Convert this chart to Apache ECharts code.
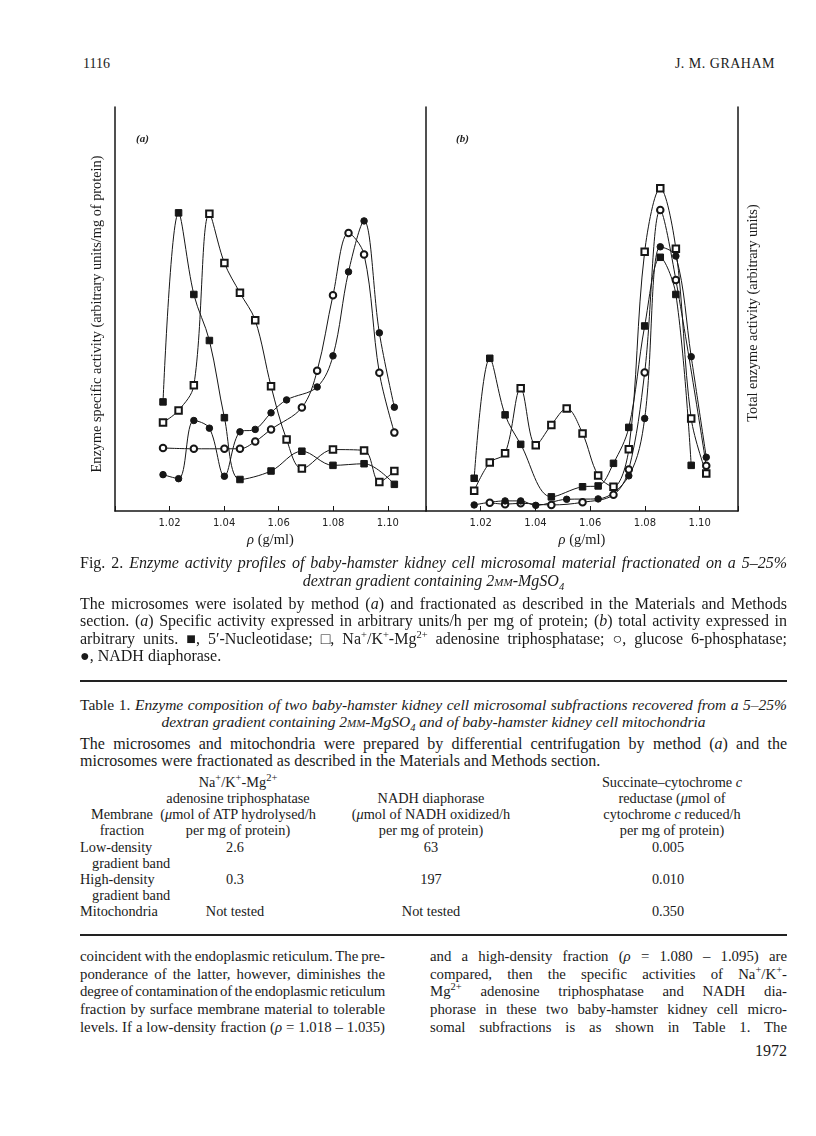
<!DOCTYPE html>
<html>
<head>
<meta charset="utf-8">
<script src="https://cdn.jsdelivr.net/npm/echarts@6/dist/echarts.min.js"></script>
<style>
html,body{margin:0;padding:0;background:#fff;}
#page{position:relative;width:816px;height:1136px;overflow:hidden;background:#fff;color:#1a1a1a;}
#chart{position:absolute;left:0;top:0;width:816px;height:560px;}
.t{position:absolute;font-family:'Liberation Serif','Times New Roman',serif;font-size:16px;line-height:18px;white-space:nowrap;}
.tb{font-size:14.3px;}
.col{font-size:14.8px;}
.c{text-align:center;}
.r{text-align:right;}
.sc{font-variant:small-caps;}
sup,sub{font-size:10.5px;line-height:0;}
.rule{position:absolute;left:80px;width:707px;height:2px;background:#222;}
</style>
</head>
<body>
<div id="page">
<div class="t" style="top:55px;left:83px;font-size:14px;">1116</div>
<div class="t r" style="top:55px;left:600px;width:175px;font-size:14px;letter-spacing:0.5px;">J. M. GRAHAM</div>

<div id="chart"></div>

<div class="t j" data-w="707" style="top:554px;left:80px;">Fig. 2. <i>Enzyme activity profiles of baby-hamster kidney cell microsomal material fractionated on a 5–25%</i></div>
<div class="t c" style="top:572px;left:80px;width:707px;"><i>dextran gradient containing 2<span class="sc">mm</span>-MgSO<sub>4</sub></i></div>

<div class="t j" data-w="707" style="top:595px;left:80px;">The microsomes were isolated by method (<i>a</i>) and fractionated as described in the Materials and Methods</div>
<div class="t j" data-w="707" style="top:612px;left:80px;">section. (<i>a</i>) Specific activity expressed in arbitrary units/h per mg of protein; (<i>b</i>) total activity expressed in</div>
<div class="t j" data-w="707" style="top:630px;left:80px;">arbitrary units. ■, 5′-Nucleotidase; □, Na<sup>+</sup>/K<sup>+</sup>-Mg<sup>2+</sup> adenosine triphosphatase; ○, glucose 6-phosphatase;</div>
<div class="t" style="top:647px;left:80px;">●, NADH diaphorase.</div>

<div class="rule" style="top:680px;"></div>

<div class="t j" data-w="707" style="top:696px;left:80px;font-size:15.5px;">Table 1. <i>Enzyme composition of two baby-hamster kidney cell microsomal subfractions recovered from a 5–25%</i></div>
<div class="t c" style="top:713px;left:80px;width:707px;font-size:15.5px;"><i>dextran gradient containing 2<span class="sc">mm</span>-MgSO<sub>4</sub> and of baby-hamster kidney cell mitochondria</i></div>
<div class="t j" data-w="707" style="top:735px;left:80px;">The microsomes and mitochondria were prepared by differential centrifugation by method (<i>a</i>) and the</div>
<div class="t" style="top:752px;left:80px;">microsomes were fractionated as described in the Materials and Methods section.</div>

<div class="t tb c" style="top:773px;left:138px;width:200px;">Na<sup>+</sup>/K<sup>+</sup>-Mg<sup>2+</sup></div>
<div class="t tb c" style="top:789px;left:138px;width:200px;">adenosine triphosphatase</div>
<div class="t tb c" style="top:805px;left:138px;width:200px;">(<i>μ</i>mol of ATP hydrolysed/h</div>
<div class="t tb c" style="top:821px;left:138px;width:200px;">per mg of protein)</div>

<div class="t tb c" style="top:789px;left:331px;width:200px;">NADH diaphorase</div>
<div class="t tb c" style="top:805px;left:331px;width:200px;">(<i>μ</i>mol of NADH oxidized/h</div>
<div class="t tb c" style="top:821px;left:331px;width:200px;">per mg of protein)</div>

<div class="t tb c" style="top:773px;left:572px;width:200px;">Succinate–cytochrome <i>c</i></div>
<div class="t tb c" style="top:789px;left:572px;width:200px;">reductase (<i>μ</i>mol of</div>
<div class="t tb c" style="top:805px;left:572px;width:200px;">cytochrome <i>c</i> reduced/h</div>
<div class="t tb c" style="top:821px;left:572px;width:200px;">per mg of protein)</div>

<div class="t tb c" style="top:805px;left:72px;width:100px;">Membrane</div>
<div class="t tb c" style="top:821px;left:72px;width:100px;">fraction</div>

<div class="t tb" style="top:838px;left:80px;">Low-density</div>
<div class="t tb" style="top:854px;left:92px;">gradient band</div>
<div class="t tb c" style="top:838px;left:135px;width:200px;">2.6</div>
<div class="t tb c" style="top:838px;left:331px;width:200px;">63</div>
<div class="t tb c" style="top:838px;left:568px;width:200px;">0.005</div>

<div class="t tb" style="top:870px;left:80px;">High-density</div>
<div class="t tb" style="top:886px;left:92px;">gradient band</div>
<div class="t tb c" style="top:870px;left:135px;width:200px;">0.3</div>
<div class="t tb c" style="top:870px;left:331px;width:200px;">197</div>
<div class="t tb c" style="top:870px;left:568px;width:200px;">0.010</div>

<div class="t tb" style="top:902px;left:80px;">Mitochondria</div>
<div class="t tb c" style="top:902px;left:135px;width:200px;">Not tested</div>
<div class="t tb c" style="top:902px;left:331px;width:200px;">Not tested</div>
<div class="t tb c" style="top:902px;left:568px;width:200px;">0.350</div>

<div class="rule" style="top:934px;"></div>

<div class="t col j" data-w="305" style="top:947px;left:80px;">coincident with the endoplasmic reticulum. The pre-</div>
<div class="t col j" data-w="305" style="top:965px;left:80px;">ponderance of the latter, however, diminishes the</div>
<div class="t col j" data-w="305" style="top:982px;left:80px;">degree of contamination of the endoplasmic reticulum</div>
<div class="t col j" data-w="305" style="top:1000px;left:80px;">fraction by surface membrane material to tolerable</div>
<div class="t col j" data-w="305" style="top:1018px;left:80px;">levels. If a low-density fraction (<i>ρ</i> = 1.018 – 1.035)</div>

<div class="t col j" data-w="357" style="top:947px;left:430px;">and a high-density fraction (<i>ρ</i> = 1.080 – 1.095) are</div>
<div class="t col j" data-w="357" style="top:965px;left:430px;">compared, then the specific activities of Na<sup>+</sup>/K<sup>+</sup>-</div>
<div class="t col j" data-w="357" style="top:982px;left:430px;">Mg<sup>2+</sup> adenosine triphosphatase and NADH dia-</div>
<div class="t col j" data-w="357" style="top:1000px;left:430px;">phorase in these two baby-hamster kidney cell micro-</div>
<div class="t col j" data-w="357" style="top:1018px;left:430px;">somal subfractions is as shown in Table 1. The</div>

<div class="t r" style="top:1042px;left:687px;width:100px;">1972</div>
</div>

<script>
// Gradient fraction densities (g/ml), shared by both panels
const density = [1.0176, 1.0233, 1.0289, 1.0346, 1.0401, 1.0458, 1.0514, 1.0572,
                 1.0629, 1.0685, 1.0741, 1.0799, 1.0856, 1.0913, 1.0969, 1.1024];
const tickLabels = ['1.02', '1.04', '1.06', '1.08', '1.10'];

// (a) specific activity (arbitrary units / mg protein); null = no point
const nucleotidaseA = [27.0, 73.8, 53.6, 42.2, 23.1, 7.8, null, 9.9, null, 14.8, null, 11.3, null, 11.7, null, 6.6];
const atpaseA       = [21.9, 24.9, 31.1, 73.6, 61.4, 54.0, 47.2, 30.9, 17.7, 10.5, null, 15.2, null, 15.0, 7.2, 9.9];
const glucoseA      = [15.6, null, 15.4, null, 15.4, 15.4, 17.2, 20.2, null, 25.6, 34.7, 53.4, 68.8, 63.5, 34.2, 19.4];
const nadhA         = [9.0, 8.0, 22.4, 20.5, 8.6, 19.6, 20.2, 24.3, 27.5, null, 30.7, 38.4, 59.2, 71.8, 44.1, 25.7];

// (b) total activity (arbitrary units)
const nucleotidaseB = [8.1, 37.8, 23.8, 16.5, null, 3.5, null, 6.0, 6.2, 11.8, 20.7, 45.8, 62.8, 53.6, 11.3, null];
const atpaseB       = [5.0, 12.0, 14.3, 30.4, 16.3, 21.3, 25.4, 19.2, 8.8, 6.0, 15.3, 64.2, 79.9, 64.9, 22.9, 9.3];
const glucoseB      = [null, 2.05, 1.7, 1.9, null, 1.5, null, 2.15, null, 4.0, 10.3, 34.3, 74.5, 57.2, null, 11.2];
const nadhB         = [1.5, null, 2.5, 2.5, 1.4, null, 2.9, null, 3.0, null, 8.7, 22.9, 65.4, 63.1, 38.2, 13.3];

// Fit justified text lines to their column width (layout only)
document.querySelectorAll('.j').forEach(el => {
  const target = parseFloat(el.getAttribute('data-w'));
  const natural = el.getBoundingClientRect().width;
  const txt = el.textContent;
  const spaces = (txt.match(/ /g) || []).length;
  const diff = target - natural;
  if (diff >= 0 || (spaces && diff / spaces > -1.0)) {
    el.style.wordSpacing = (spaces ? diff / spaces : 0) + 'px';
  } else {
    const ls = (diff + spaces * 1.0) / txt.length;
    el.style.wordSpacing = '-1px';
    el.style.letterSpacing = ls + 'px';
  }
});

const INK = '#161616';
function pts(arr) {
  return density.map((d, i) => [d, arr[i]]).filter(p => p[1] !== null);
}
function xAxis(gridIndex) {
  return {
    type: 'value', gridIndex: gridIndex, min: 1.0, max: 1.114, interval: 0.02,
    axisLine: { show: true, onZero: false, lineStyle: { color: INK, width: 1.5 } },
    axisTick: { show: true, inside: true, length: 5, lineStyle: { color: INK, width: 1 } },
    axisLabel: {
      color: '#222', fontFamily: 'DejaVu Sans', fontSize: 10, margin: 7,
      formatter: v => { const s = v.toFixed(2); return tickLabels.indexOf(s) >= 0 && Math.abs(v - parseFloat(s)) < 1e-6 ? s : ''; }
    },
    splitLine: { show: false },
    name: '{i|ρ} (g/ml)', nameLocation: 'middle', nameGap: 22,
    nameTextStyle: { color: '#1a1a1a', fontFamily: 'Liberation Serif', fontSize: 14.5,
      rich: { i: { fontStyle: 'italic', fontFamily: 'Liberation Serif', fontSize: 14.5, color: '#1a1a1a' } } }
  };
}
function yAxis(gridIndex, position) {
  return {
    type: 'value', gridIndex: gridIndex, min: 0, max: 100, position: position,
    axisLine: { show: true, lineStyle: { color: INK, width: 1.5 } },
    axisTick: { show: false }, axisLabel: { show: false }, splitLine: { show: false }
  };
}
function series(name, data, symbol, xi, yi) {
  return {
    name: name, type: 'line', xAxisIndex: xi, yAxisIndex: yi, data: pts(data),
    smooth: 0.35, symbol: symbol, symbolSize: 6.5, showSymbol: true,
    lineStyle: { color: INK, width: 1 },
    itemStyle: { color: INK, borderColor: INK, borderWidth: 1 },
    emphasis: { disabled: true }, animation: false
  };
}

const chart = echarts.init(document.getElementById('chart'), null, { renderer: 'canvas' });
chart.setOption({
  animation: false,
  grid: [
    { left: 115, top: 107, width: 311, height: 404 },
    { left: 426, top: 107, width: 312, height: 404 }
  ],
  xAxis: [xAxis(0), xAxis(1)],
  yAxis: [yAxis(0, 'left'), yAxis(1, 'left'), yAxis(1, 'right')],
  graphic: [
    { type: 'text', left: 136, top: 134, style: { text: '(a)', fontFamily: 'Liberation Serif', fontStyle: 'italic', fontWeight: 'bold', fontSize: 11, fill: '#222' } },
    { type: 'text', left: 456, top: 134, style: { text: '(b)', fontFamily: 'Liberation Serif', fontStyle: 'italic', fontWeight: 'bold', fontSize: 11, fill: '#222' } },
    { type: 'text', x: 97, y: 314, rotation: Math.PI / 2,
      style: { text: 'Enzyme specific activity (arbitrary units/mg of protein)', fontFamily: 'Liberation Serif', fontSize: 14.3, fill: '#1a1a1a', textAlign: 'center', textVerticalAlign: 'middle' } },
    { type: 'text', x: 753, y: 313, rotation: Math.PI / 2,
      style: { text: 'Total enzyme activity (arbitrary units)', fontFamily: 'Liberation Serif', fontSize: 14.3, fill: '#1a1a1a', textAlign: 'center', textVerticalAlign: 'middle' } }
  ],
  series: [
    series('5′-Nucleotidase (a)', nucleotidaseA, 'rect', 0, 0),
    series('Na+/K+-Mg2+ ATPase (a)', atpaseA, 'emptyRect', 0, 0),
    series('Glucose 6-phosphatase (a)', glucoseA, 'emptyCircle', 0, 0),
    series('NADH diaphorase (a)', nadhA, 'circle', 0, 0),
    series('5′-Nucleotidase (b)', nucleotidaseB, 'rect', 1, 1),
    series('Na+/K+-Mg2+ ATPase (b)', atpaseB, 'emptyRect', 1, 1),
    series('Glucose 6-phosphatase (b)', glucoseB, 'emptyCircle', 1, 1),
    series('NADH diaphorase (b)', nadhB, 'circle', 1, 1)
  ]
});
</script>
</body>
</html>
